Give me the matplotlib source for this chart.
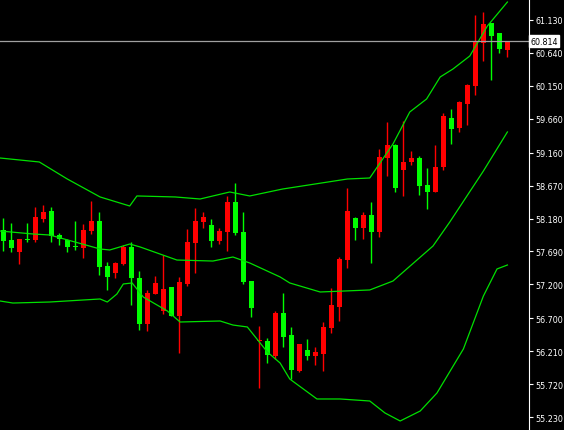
import matplotlib
matplotlib.use('Agg')
import matplotlib.pyplot as plt
import numpy as np

# OHLC bars (red = up, green = down, as on the terminal)
opens = [58.009, 57.861, 57.682, 57.876, 57.861, 58.173, 58.292, 57.935, 57.861, 57.771,
         57.742, 57.994, 58.143, 57.474, 57.370, 57.504, 57.757, 57.296, 56.612, 57.058,
         56.806, 57.162, 56.731, 57.207, 57.816, 58.128, 58.084, 57.846, 57.980, 58.425,
         57.980, 57.251, 56.360, 56.360, 56.137, 56.776, 56.449, 55.914, 56.226, 56.137,
         56.166, 56.553, 56.865, 57.563, 58.188, 58.039, 58.233, 57.980, 59.079, 59.272,
         58.901, 59.020, 59.079, 58.678, 58.574, 58.946, 59.674, 59.525, 59.882, 60.149,
         60.788, 61.085, 60.937, 60.684]
highs = [58.188, 58.114, 57.876, 58.114, 58.351, 58.381, 58.351, 57.965, 57.876, 58.143,
         58.099, 58.440, 58.277, 57.534, 57.534, 57.786, 57.831, 57.400, 57.118, 57.326,
         57.638, 57.162, 57.311, 58.024, 58.336, 58.277, 58.173, 58.039, 58.515, 58.708,
         58.277, 57.251, 56.582, 56.404, 56.806, 57.073, 56.568, 56.315, 56.389, 56.270,
         56.642, 57.147, 57.608, 58.634, 58.203, 58.277, 58.425, 59.213, 59.614, 59.287,
         59.629, 59.183, 59.109, 58.931, 59.272, 59.748, 59.807, 59.926, 60.179, 61.204,
         61.249, 61.085, 60.937, 60.818]
lows = [57.697, 57.682, 57.504, 57.831, 57.831, 58.128, 57.831, 57.786, 57.682, 57.712,
        57.593, 57.950, 57.340, 57.118, 57.296, 57.489, 56.895, 56.523, 56.508, 57.058,
        56.761, 56.731, 56.181, 57.177, 57.370, 58.039, 57.757, 57.801, 57.697, 57.935,
        57.207, 56.716, 55.661, 56.032, 56.092, 56.270, 55.795, 55.899, 56.077, 56.002,
        55.914, 56.479, 56.657, 57.444, 57.861, 57.876, 57.519, 57.905, 58.812, 58.574,
        58.515, 58.975, 58.529, 58.321, 58.574, 58.901, 59.287, 59.466, 59.570, 60.015,
        60.521, 60.238, 60.640, 60.580]
closes = [57.846, 57.742, 57.876, 57.861, 58.203, 58.277, 57.920, 57.876, 57.757, 57.757,
          58.009, 58.143, 57.459, 57.311, 57.519, 57.757, 57.296, 56.612, 57.073, 57.222,
          57.133, 56.731, 57.236, 57.831, 58.143, 58.203, 57.846, 57.994, 58.425, 57.965,
          57.236, 56.850, 56.375, 56.152, 56.776, 56.419, 55.928, 56.315, 56.137, 56.196,
          56.568, 56.895, 57.578, 58.292, 58.039, 58.233, 57.980, 59.094, 59.272, 58.634,
          59.020, 59.079, 58.663, 58.574, 58.946, 59.703, 59.510, 59.911, 60.164, 60.803,
          61.070, 60.892, 60.699, 60.803]

# Bollinger bands (bar index, price)
upper_x = [-0.4, 4.5, 8, 12.1, 15.8, 16.7, 21.5, 24.6, 28.3, 30.8, 34.9, 43, 45.8, 48.7,
           50.8, 52.9, 54.6, 56.2, 58.3, 60.5, 63]
upper_y = [59.079, 59.020, 58.767, 58.500, 58.366, 58.515, 58.500, 58.470, 58.574, 58.515,
           58.618, 58.767, 58.782, 59.287, 59.763, 59.956, 60.283, 60.402, 60.595, 61.041, 61.397]
mid_x = [-0.4, 3.7, 5.8, 12.1, 13.3, 15.8, 17.1, 21.7, 26.2, 28.7, 30.8, 34.6, 35.8, 39.6,
         45.8, 48.7, 53.7, 55.8, 60, 63]
mid_y = [57.994, 57.950, 57.935, 57.727, 57.712, 57.801, 57.757, 57.563, 57.548, 57.608,
         57.519, 57.311, 57.222, 57.088, 57.118, 57.251, 57.771, 58.128, 58.886, 59.466]
lower_x = [-0.4, 1.2, 5.8, 12.1, 13, 14.2, 15, 16.1, 17.5, 20.5, 22.1, 27.1, 28.7, 30.5, 33,
           34.6, 35.8, 39.2, 42.1, 45.8, 47.7, 49.6, 52.1, 54.2, 57.5, 60, 61.7, 63]
lower_y = [56.954, 56.924, 56.939, 56.984, 56.939, 57.058, 57.207, 57.222, 57.013, 56.806,
           56.642, 56.657, 56.597, 56.568, 56.196, 56.032, 55.795, 55.498, 55.498, 55.468,
           55.290, 55.171, 55.319, 55.587, 56.241, 57.028, 57.430, 57.489]

ticks = [61.130, 60.640, 60.150, 59.660, 59.160, 58.670, 58.180, 57.690, 57.200, 56.700,
         56.210, 55.720, 55.230]
last_price = 60.814

fig = plt.figure(figsize=(5.64, 4.31), dpi=100, facecolor='black')
ax = fig.add_axes([0, 0, 529 / 564, 1])
ax.set_facecolor('black')

for i in range(len(opens)):
    col = '#ff0000' if closes[i] >= opens[i] else '#00ff00'
    ax.vlines(i, lows[i], highs[i], color=col, lw=1)
    lo, hi = min(opens[i], closes[i]), max(opens[i], closes[i])
    ax.bar(i, max(hi - lo, 0.012), 0.62, bottom=lo, color=col, lw=0)

for xs, ys in [(upper_x, upper_y), (mid_x, mid_y), (lower_x, lower_y)]:
    ax.plot(xs, ys, color='#00e000', lw=0.9)

ax.axhline(last_price, color='#a0a0a0', lw=0.9)

ax.set_xlim(-0.41, 65.7)
ax.set_ylim(55.037, 61.442)
ax.set_xticks([])
ax.yaxis.tick_right()
ax.set_yticks(ticks)
ax.set_yticklabels([f'{t:.3f}' for t in ticks], color='white', fontsize=5.8)
ax.tick_params(axis='y', colors='white', length=3, pad=1.5, labelcolor='white')
for s in ['top', 'left', 'bottom']:
    ax.spines[s].set_visible(False)
ax.spines['right'].set_color('white')

ax.text(1.003, last_price, f'{last_price:.3f}', transform=ax.get_yaxis_transform(),
        color='black', fontsize=5.8, va='center', ha='left',
        bbox=dict(facecolor='white', edgecolor='white', pad=1))

fig.savefig('out.png', dpi=100, facecolor='black')
